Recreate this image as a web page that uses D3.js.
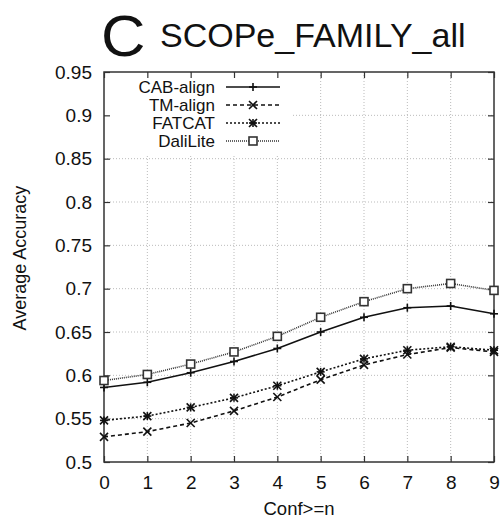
<!DOCTYPE html>
<html>
<head>
<meta charset="utf-8">
<script src="https://cdn.jsdelivr.net/npm/d3@7"></script>
<style>
body { margin: 0; background: #fff; }
text { font-family: "Liberation Sans", Arial, sans-serif; fill: #111; }
</style>
</head>
<body>
<div id="main"></div>
<script>
var ctx = {
    w: 501,
    h: 522,
    left: 104,
    right: 494,
    top: 72,
    bottom: 462
};

// data
var confLevels = [0, 1, 2, 3, 4, 5, 6, 7, 8, 9];
var yTicks = [0.5, 0.55, 0.6, 0.65, 0.7, 0.75, 0.8, 0.85, 0.9, 0.95];
var seriesNames = ["CAB-align", "TM-align", "FATCAT", "DaliLite"];
var cabAlign = [0.586, 0.592, 0.603, 0.616, 0.631, 0.650, 0.667, 0.678, 0.680, 0.671];
var tmAlign = [0.529, 0.535, 0.545, 0.559, 0.575, 0.595, 0.612, 0.624, 0.632, 0.627];
var fatcat = [0.548, 0.553, 0.563, 0.574, 0.588, 0.604, 0.619, 0.629, 0.633, 0.629];
var daliLite = [0.594, 0.601, 0.613, 0.627, 0.645, 0.667, 0.685, 0.700, 0.706, 0.698];

var styles = {
    "CAB-align": {dash: null, marker: "plus", color: "#111"},
    "TM-align": {dash: "4,3", marker: "cross", color: "#111"},
    "FATCAT": {dash: "2,2", marker: "star", color: "#111"},
    "DaliLite": {dash: "1,1", marker: "box", color: "#333"}
};

var drawMarker = function(g, type, x, y, color) {
    var s = 4;
    if (type == "plus" || type == "star") {
        g.append("line").attr("x1", x - s).attr("x2", x + s).attr("y1", y).attr("y2", y);
        g.append("line").attr("x1", x).attr("x2", x).attr("y1", y - s).attr("y2", y + s);
    }
    if (type == "cross" || type == "star") {
        g.append("line").attr("x1", x - s).attr("x2", x + s).attr("y1", y - s).attr("y2", y + s);
        g.append("line").attr("x1", x - s).attr("x2", x + s).attr("y1", y + s).attr("y2", y - s);
    }
    if (type == "box") {
        g.append("rect").attr("x", x - 4).attr("y", y - 4).attr("width", 8).attr("height", 8)
            .style("fill", "#fff");
    }
    g.selectAll("line, rect").style("stroke", color).style("stroke-width", 1.6);
};

var createViz = function() {
    var svg = d3.select("#main").append("svg")
        .attr("width", ctx.w).attr("height", ctx.h);

    var xScale = d3.scaleLinear().domain([0, 9]).range([ctx.left, ctx.right]);
    var yScale = d3.scaleLinear().domain([0.5, 0.95]).range([ctx.bottom, ctx.top]);

    // grid
    var grid = svg.append("g");
    confLevels.slice(1, -1).forEach(function(c) {
        grid.append("line").attr("x1", xScale(c)).attr("x2", xScale(c))
            .attr("y1", ctx.top).attr("y2", ctx.bottom);
    });
    yTicks.slice(1, -1).forEach(function(v) {
        grid.append("line").attr("x1", ctx.left).attr("x2", ctx.right)
            .attr("y1", yScale(v)).attr("y2", yScale(v));
    });
    grid.selectAll("line").style("stroke", "#bbb").style("stroke-width", 1)
        .style("stroke-dasharray", "1,2");

    // legend background hides the grid
    svg.append("rect").attr("x", ctx.left + 1).attr("y", ctx.top + 1)
        .attr("width", 186).attr("height", 81).style("fill", "#fff");

    // axes with inward ticks on all four sides
    var tickFmt = function(d) { return d3.format("")(+d.toFixed(2)); };
    var axB = svg.append("g").attr("transform", "translate(0," + ctx.bottom + ")")
        .call(d3.axisBottom(xScale).tickValues(confLevels).tickSizeInner(-6).tickSizeOuter(0).tickPadding(14));
    var axT = svg.append("g").attr("transform", "translate(0," + ctx.top + ")")
        .call(d3.axisTop(xScale).tickValues(confLevels).tickSizeInner(-6).tickSizeOuter(0).tickFormat(""));
    var axL = svg.append("g").attr("transform", "translate(" + ctx.left + ",0)")
        .call(d3.axisLeft(yScale).tickValues(yTicks).tickSizeInner(-6).tickSizeOuter(0).tickPadding(12).tickFormat(tickFmt));
    var axR = svg.append("g").attr("transform", "translate(" + ctx.right + ",0)")
        .call(d3.axisRight(yScale).tickValues(yTicks).tickSizeInner(-6).tickSizeOuter(0).tickFormat(""));
    [axB, axT, axL, axR].forEach(function(a) {
        a.select(".domain").remove();
        a.selectAll("line").style("stroke", "#333").style("stroke-width", 1.2);
        a.selectAll("text").style("font-family", "Liberation Sans, Arial, sans-serif")
            .style("font-size", "19px").style("fill", "#111");
    });
    svg.append("rect").attr("x", ctx.left).attr("y", ctx.top)
        .attr("width", ctx.right - ctx.left).attr("height", ctx.bottom - ctx.top)
        .style("fill", "none").style("stroke", "#333").style("stroke-width", 1.5);

    // series
    var allValues = [cabAlign, tmAlign, fatcat, daliLite];
    var line = d3.line()
        .x(function(d, i) { return xScale(confLevels[i]); })
        .y(function(d) { return yScale(d); });
    seriesNames.forEach(function(name, k) {
        var st = styles[name];
        svg.append("path").datum(allValues[k])
            .attr("d", line)
            .style("fill", "none").style("stroke", st.color).style("stroke-width", 1.6)
            .style("stroke-dasharray", st.dash);
        var mg = svg.append("g");
        allValues[k].forEach(function(v, i) {
            drawMarker(mg, st.marker, xScale(confLevels[i]), yScale(v), st.color);
        });
    });

    // legend
    seriesNames.forEach(function(name, k) {
        var st = styles[name];
        var y = 87 + k * 18;
        svg.append("text").attr("x", 215).attr("y", y + 6)
            .style("text-anchor", "end").style("font-size", "17px").text(name);
        svg.append("line").attr("x1", 226).attr("x2", 280).attr("y1", y).attr("y2", y)
            .style("stroke", st.color).style("stroke-width", 1.6).style("stroke-dasharray", st.dash);
        drawMarker(svg.append("g"), st.marker, 253, y, st.color);
    });

    // titles
    svg.append("text").attr("x", 101).attr("y", 56)
        .attr("transform", "translate(101,56) scale(1.08,1) translate(-101,-56)")
        .style("font-size", "57px").text("C");
    svg.append("text").attr("x", 160).attr("y", 47)
        .style("font-size", "34px").text("SCOPe_FAMILY_all");
    svg.append("text").attr("x", (ctx.left + ctx.right) / 2).attr("y", 515)
        .style("text-anchor", "middle").style("font-size", "18.5px").text("Conf>=n");
    svg.append("text")
        .attr("transform", "translate(26," + ((ctx.top + ctx.bottom) / 2 - 9) + ") rotate(-90)")
        .style("text-anchor", "middle").style("font-size", "18px").text("Average Accuracy");
};

createViz();
</script>
</body>
</html>
